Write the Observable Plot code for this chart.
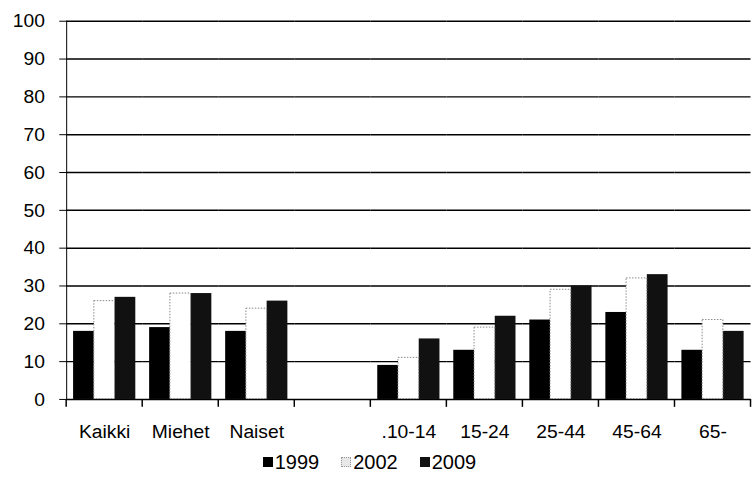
<!DOCTYPE html>
<html><head><meta charset="utf-8">
<script src="https://cdn.jsdelivr.net/npm/d3@7"></script>
<script src="https://cdn.jsdelivr.net/npm/@observablehq/plot@0.6"></script>
<style>
html,body{margin:0;padding:0;background:#fff;overflow:hidden;}
#chart{width:753px;overflow:hidden;height:448px;}
#legend{display:flex;justify-content:center;align-items:center;margin-top:4px;padding-right:14px;font-family:"Liberation Sans",Arial,sans-serif;font-size:20px;line-height:20px;color:#000;}
.item{display:flex;align-items:center;margin:0 11px;}
.sw{width:10px;height:10px;margin-right:2px;box-sizing:border-box;}
</style></head><body>
<div id="chart"></div>
<div id="legend"></div>
<script>
const categories = ["Kaikki", "Miehet", "Naiset", " ", ".10-14", "15-24", "25-44", "45-64", "65-"];
const series = ["1999", "2002", "2009"];
const values1999 = [18, 19, 18, null, 9, 13, 21, 23, 13];
const values2002 = [26, 28, 24, null, 11, 19, 29, 32, 21];
const values2009 = [27, 28, 26, null, 16, 22, 30, 33, 18];
const yTicks = [0, 10, 20, 30, 40, 50, 60, 70, 80, 90, 100];
const colors = ["#000000", "#ffffff", "#111111"];

const seriesValues = [values1999, values2002, values2009];
const rows = [];
categories.forEach((c, i) => {
  series.forEach((s, j) => rows.push({category: c, series: s, value: seriesValues[j][i]}));
});

const chart = Plot.plot({
  width: 762.5,
  height: 448,
  marginLeft: 65,
  marginRight: 0,
  marginTop: 21,
  marginBottom: 44,
  style: {fontFamily: "'Liberation Sans', Arial, sans-serif", fontSize: "19.5px", color: "#000", background: "#fff", overflow: "visible"},
  facet: {data: rows, x: "category"},
  fx: {domain: categories, padding: 0, label: null, tickSize: 0, tickPadding: 25},
  x: {domain: series, axis: null, paddingInner: 0, paddingOuter: 0.26},
  y: {domain: [0, 100], ticks: yTicks, tickSize: 7, tickPadding: 15, label: null, line: true},
  color: {domain: series, range: colors},
  marks: [
    Plot.ruleY(yTicks.filter(d => d > 0), {stroke: "#000", strokeWidth: 1.5}),
    Plot.barY(rows, {x: "series", y: "value", fill: "series"}),
    Plot.barY(rows, {x: "series", y: "value", filter: d => d.series === "2002" && d.value != null, fill: "none", stroke: "#888", strokeWidth: 1, strokeDasharray: "1.5,1.5"}),
    Plot.ruleY([0], {stroke: "#000", strokeWidth: 1.5})
  ]
});
document.getElementById("chart").appendChild(chart);

// category boundary ticks on the x axis, placed through Plot's own scales
const fx = chart.scale("fx");
const ys = chart.scale("y");
const y0 = ys.apply(0);
const bounds = categories.map(c => fx.apply(c)).concat([fx.apply(categories[categories.length - 1]) + fx.bandwidth]);
d3.select(chart).append("g")
  .selectAll("line").data(bounds).join("line")
  .attr("x1", d => d).attr("x2", d => d)
  .attr("y1", y0).attr("y2", y0 + 8)
  .attr("stroke", "#000").attr("stroke-width", 1.5);

// legend
const legend = d3.select("#legend");
series.forEach((s, i) => {
  const it = legend.append("div").attr("class", "item");
  const sw = it.append("div").attr("class", "sw").style("background", i === 1 ? "#e8e8e8" : colors[i]);
  if (i === 1) sw.style("border", "1px dotted #999");
  it.append("span").text(s);
});
</script>
</body></html>
